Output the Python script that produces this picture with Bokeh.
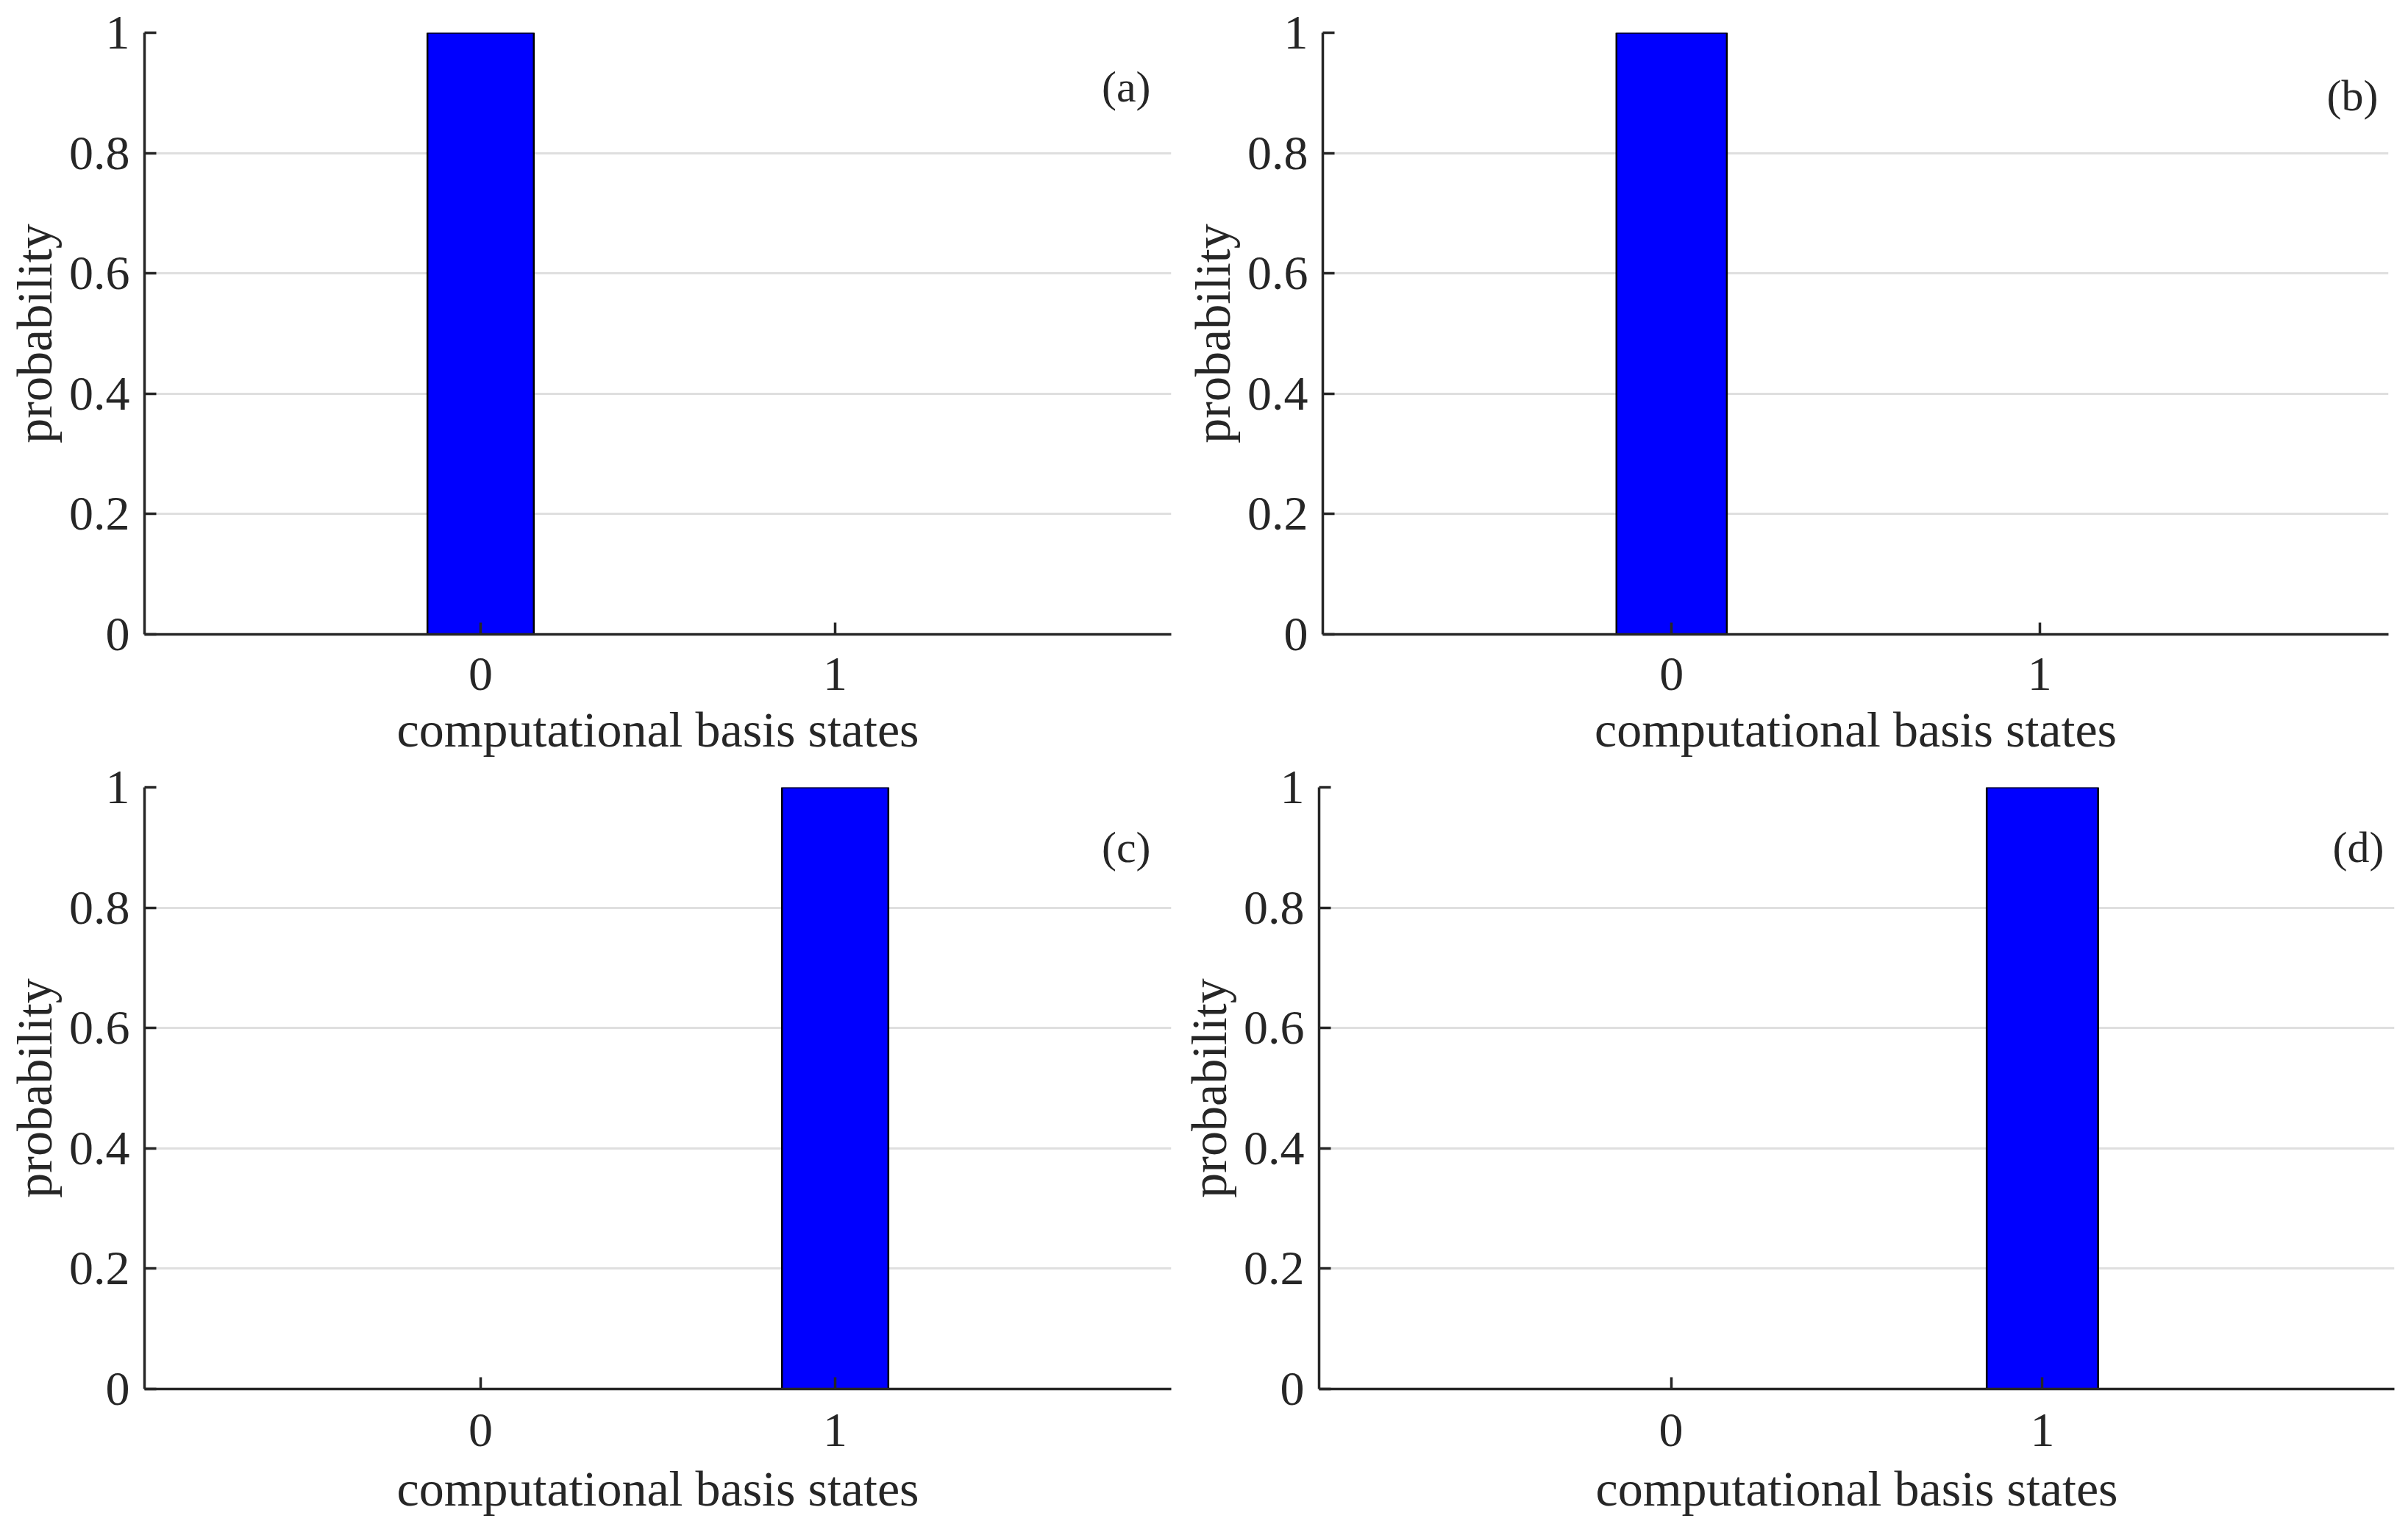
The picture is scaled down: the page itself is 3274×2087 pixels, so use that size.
from bokeh.plotting import figure
from bokeh.layouts import column, row
from bokeh.models import FixedTicker, Range1d, Label
from bokeh.embed import file_html
from bokeh.resources import INLINE

states = [0, 1]
state_labels = {0: "0", 1: "1"}
prob_a = [1.0, 0.0]
prob_b = [1.0, 0.0]
prob_c = [0.0, 1.0]
prob_d = [0.0, 1.0]
y_ticks = [0, 0.2, 0.4, 0.6, 0.8, 1]
y_tick_labels = {0: "0", 0.2: "0.2", 0.4: "0.4", 0.6: "0.6", 0.8: "0.8", 1: "1"}
panel_tags = ["(a)", "(b)", "(c)", "(d)"]

FONT = "Liberation Serif"
TXT = "#262626"


def make_panel(probs, tag, frame_w, frame_h, b_left, b_right, b_top, b_bottom,
               tag_x, tag_y, tick_standoff, label_standoff):
    p = figure(frame_width=frame_w, frame_height=frame_h,
               x_range=Range1d(-0.948, 1.948), y_range=Range1d(0, 1),
               output_backend="svg", toolbar_location=None,
               min_border_left=b_left, min_border_right=b_right,
               min_border_top=b_top, min_border_bottom=b_bottom)
    p.outline_line_color = None
    p.background_fill_color = "white"
    p.border_fill_color = "white"
    p.vbar(x=states, top=probs, bottom=0, width=0.3,
           fill_color="#0000ff", line_color="#000000", line_width=2.5)

    p.xgrid.visible = False
    p.ygrid.grid_line_color = "#dfdfdf"
    p.ygrid.grid_line_width = 3
    p.ygrid.ticker = FixedTicker(ticks=y_ticks)

    for ax in (p.xaxis[0], p.yaxis[0]):
        ax.axis_line_color = TXT
        ax.axis_line_width = 3.5
        ax.major_tick_line_color = TXT
        ax.major_tick_line_width = 3.5
        ax.major_tick_in = 16
        ax.major_tick_out = 0
        ax.minor_tick_line_color = None
        ax.major_label_text_font = FONT
        ax.major_label_text_font_size = "66px"
        ax.major_label_text_color = TXT
        ax.axis_label_text_font = FONT
        ax.axis_label_text_font_size = "68px"
        ax.axis_label_text_color = TXT
        ax.axis_label_text_font_style = "normal"

    p.xaxis.ticker = FixedTicker(ticks=states)
    p.xaxis.major_label_overrides = state_labels
    p.xaxis.axis_label = "computational basis states"
    p.xaxis.major_label_standoff = tick_standoff
    p.xaxis.axis_label_standoff = label_standoff

    p.yaxis.ticker = FixedTicker(ticks=y_ticks)
    p.yaxis.major_label_standoff = 20
    p.yaxis.major_label_overrides = y_tick_labels
    p.yaxis.axis_label = "probability"
    p.yaxis.axis_label_standoff = 6

    p.add_layout(Label(x=tag_x, y=tag_y, text=tag, text_align="right",
                       text_baseline="middle", text_font=FONT,
                       text_font_size="60px", text_color=TXT))
    return p


pa = make_panel(prob_a, panel_tags[0], 1396, 818, 196, 10, 44, 170, 1.89, 0.91, 32, 13)
pb = make_panel(prob_b, panel_tags[1], 1449, 818, 196, 8, 44, 170, 1.92, 0.895, 32, 13)
pc = make_panel(prob_c, panel_tags[2], 1396, 818, 196, 10, 38, 178, 1.89, 0.90, 34, 17)
pd = make_panel(prob_d, panel_tags[3], 1462, 818, 190, 8, 38, 178, 1.92, 0.90, 34, 17)

layout = column(row(pa, pb), row(pc, pd))

open("out.html", "w").write(file_html(layout, INLINE))
